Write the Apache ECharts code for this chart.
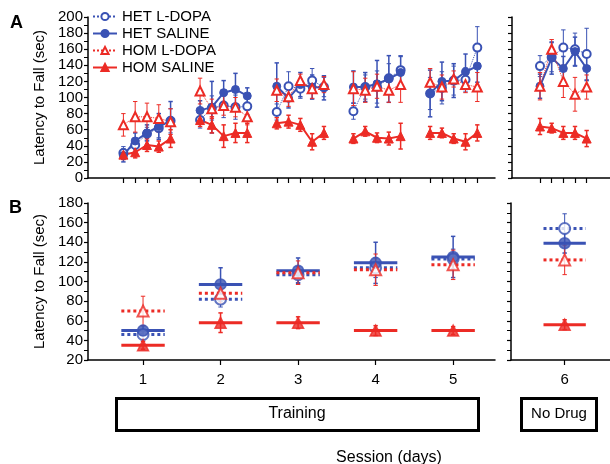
<!DOCTYPE html>
<html>
<head>
<meta charset="utf-8">
<script src="https://cdn.jsdelivr.net/npm/echarts@6/dist/echarts.min.js"></script>
<style>
html,body{margin:0;padding:0;background:#fff;}
#chart{width:610px;height:464px;}
</style>
</head>
<body>
<div id="chart"></div>
<script>
// ---------- DATA ----------
const groupNames = ['HET L-DOPA', 'HET SALINE', 'HOM L-DOPA', 'HOM SALINE'];
const sessionLabels = ['1', '2', '3', '4', '5', '6'];
const yTicksA = [0, 20, 40, 60, 80, 100, 120, 140, 160, 180, 200];
const yTicksB = [20, 40, 60, 80, 100, 120, 140, 160, 180];

// Panel A: per session (6) x trial (5) means
const hetLdopaA = [[31,41,55,62,71],[72,87,90,88,89],[82,114,111,121,113],[83,113,113,124,134],[105,112,121,122,162],[139,150,162,160,154]];
const hetSalineA = [[28,46,56,64,71],[84,88,106,110,102],[114,99,116,113,112],[113,113,117,123,131],[105,120,121,132,139],[114,149,136,157,136]];
const homLdopaA = [[66,76,76,74,70],[108,86,90,88,76],[109,101,121,111,116],[111,109,114,109,116],[119,113,123,116,113],[114,160,120,104,113]];
const homSalineA = [[29,32,41,39,49],[72,66,52,56,56],[68,70,66,45,56],[49,58,50,49,52],[56,56,49,45,56],[64,62,56,56,49]];

// Panel A: errors
const hetLdopaErrA = [[8,8,8,12,15],[10,15,15,15,10],[10,18,12,15,12],[10,15,20,18,18],[20,20,18,15,26],[13,18,22,20,32]];
const hetSalineErrA = [[8,10,10,16,24],[12,32,15,20,10],[29,12,15,15,15],[20,18,29,29,20],[29,24,21,22,20],[15,20,15,18,15]];
const homLdopaErrA = [[14,19,17,17,16],[16,12,12,12,10],[14,12,8,12,10],[21,15,15,15,22],[17,15,10,10,18],[17,12,20,21,15]];
const homSalineErrA = [[6,7,8,7,11],[8,10,14,12,12],[7,8,8,10,8],[6,6,6,8,16],[8,6,6,10,10],[10,6,8,8,10]];

// Panel B: session means and errors
const hetLdopaB = [46, 82, 107, 114, 123, 154];
const hetSalineB = [50, 97, 111, 119, 125, 139];
const homLdopaB = [70, 88, 109, 112, 117, 122];
const homSalineB = [35, 58, 58, 50, 50, 56];
const hetLdopaErrB = [5, 8, 8, 10, 10, 15];
const hetSalineErrB = [5, 17, 13, 21, 21, 10];
const homLdopaErrB = [15, 10, 12, 16, 15, 15];
const homSalineErrB = [4, 10, 6, 5, 4, 5];

// ---------- STYLE / LAYOUT ----------
const BLUE = '#3a52b4';
const RED = '#ec2b25';
const FONT = 'Arial, "Liberation Sans", Helvetica, sans-serif';
const FS = 15;
const GROUP = 6.5;   // trial-units between session blocks in panel A
const HALF = 0.28;   // half width of mean lines in panel B

const groups = [
  {name: groupNames[0], a: hetLdopaA, ea: hetLdopaErrA, b: hetLdopaB, eb: hetLdopaErrB, color: BLUE, open: true, sym: 'circle'},
  {name: groupNames[1], a: hetSalineA, ea: hetSalineErrA, b: hetSalineB, eb: hetSalineErrB, color: BLUE, open: false, sym: 'circle'},
  {name: groupNames[2], a: homLdopaA, ea: homLdopaErrA, b: homLdopaB, eb: homLdopaErrB, color: RED, open: true, sym: 'triangle'},
  {name: groupNames[3], a: homSalineA, ea: homSalineErrA, b: homSalineB, eb: homSalineErrB, color: RED, open: false, sym: 'triangle'}
];

function trialX(s, t) { return s < 5 ? s * GROUP + t : t; }

function errRender(color, lw, cap) {
  return function (params, api) {
    const x = api.value(0), y = api.value(1), e = api.value(2);
    const top = api.coord([x, y + e]);
    const bot = api.coord([x, y - e]);
    const st = {stroke: color, lineWidth: lw};
    return {type: 'group', children: [
      {type: 'line', shape: {x1: top[0], y1: top[1], x2: bot[0], y2: bot[1]}, style: st},
      {type: 'line', shape: {x1: top[0] - cap, y1: top[1], x2: top[0] + cap, y2: top[1]}, style: st},
      {type: 'line', shape: {x1: bot[0] - cap, y1: bot[1], x2: bot[0] + cap, y2: bot[1]}, style: st}
    ]};
  };
}

function symName(g) { return g.open ? 'empty' + g.sym.charAt(0).toUpperCase() + g.sym.slice(1) : g.sym; }

const series = [];
// Panel A error bars
groups.forEach(g => {
  const left = [], right = [];
  g.a.forEach((arr, s) => arr.forEach((v, t) => {
    const item = [trialX(s, t), v, g.ea[s][t]];
    (s < 5 ? left : right).push(item);
  }));
  [[left, 0], [right, 1]].forEach(([d, idx]) => {
    series.push({type: 'custom', name: g.name + ' errA', xAxisIndex: idx, yAxisIndex: idx, z: 1,
      renderItem: errRender(g.color, g.open ? 1 : 1.5, 2.2), data: d, silent: true});
  });
});
// Panel A lines + markers
groups.forEach(g => {
  const left = [], right = [];
  g.a.forEach((arr, s) => {
    const tgt = s < 5 ? left : right;
    arr.forEach((v, t) => tgt.push([trialX(s, t), v]));
    if (s < 5) tgt.push([trialX(s, 4.5), '-']);
  });
  [[left, 0], [right, 1]].forEach(([d, idx]) => {
    series.push({
      type: 'line', name: g.name, xAxisIndex: idx, yAxisIndex: idx, z: 3,
      data: d, connectNulls: false,
      symbol: symName(g),
      symbolSize: g.sym === 'circle' ? 8 : 9,
      showAllSymbol: true,
      itemStyle: {color: g.color, borderColor: g.color, borderWidth: g.open ? 1.2 : 1},
      lineStyle: {color: g.color, width: g.open ? 1 : 2, type: g.open ? 'dotted' : 'solid'},
      animation: false
    });
  });
});
// Panel B
groups.forEach(g => {
  const segL = [], segR = [], ptsL = [], ptsR = [], errL = [], errR = [];
  g.b.forEach((v, i) => {
    const day = i + 1;
    const seg = day <= 5 ? segL : segR;
    seg.push([day - HALF, v], [day + HALF, v], [day, '-']);
    (day <= 5 ? ptsL : ptsR).push([day, v]);
    (day <= 5 ? errL : errR).push([day, v, g.eb[i]]);
  });
  [[segL, ptsL, errL, 2], [segR, ptsR, errR, 3]].forEach(([seg, pts, err, idx]) => {
    series.push({type: 'custom', name: g.name + ' errB', xAxisIndex: idx, yAxisIndex: idx, z: 1,
      renderItem: errRender(g.color, g.open ? 1 : 1.5, 2.2), data: err, silent: true});
    series.push({type: 'line', name: g.name + ' meanB', xAxisIndex: idx, yAxisIndex: idx, z: 2,
      data: seg, connectNulls: false, symbol: 'none',
      lineStyle: {color: g.color, width: 3, type: g.open ? [3, 3] : 'solid'}, animation: false});
    series.push({type: 'scatter', name: g.name + ' ptB', xAxisIndex: idx, yAxisIndex: idx, z: 4,
      data: pts, symbol: symName(g), symbolSize: 11,
      itemStyle: {color: g.color, borderColor: g.color, borderWidth: 1.5}, animation: false});
  });
});

const axisLineStyle = {lineStyle: {color: '#000', width: 1.5}};
const tickStyle = {lineStyle: {color: '#000', width: 1.2}};

function yAxisDef(gridIndex, min, max, ticks, showLabel, name) {
  return {
    type: 'value', gridIndex, min, max, interval: ticks[1] - ticks[0],
    axisLine: {show: true, onZero: false, ...axisLineStyle},
    axisTick: {show: true, length: 4, ...tickStyle},
    minorTick: {show: true, splitNumber: 2, length: 4, lineStyle: {color: '#000', width: 1}},
    splitLine: {show: false},
    axisLabel: {show: showLabel, color: '#000', fontSize: FS, fontFamily: FONT, margin: 5},
    name: name || '', nameLocation: 'middle', nameGap: 37, nameRotate: 90,
    nameTextStyle: {color: '#000', fontSize: FS, fontFamily: FONT}
  };
}

const tickPosLeftA = [];
for (let s = 0; s < 5; s++) for (let t = 0; t < 5; t++) tickPosLeftA.push(trialX(s, t));
const tickPosRightA = [0, 1, 2, 3, 4];

function xAxisDef(gridIndex, min, max, ticks, labels) {
  return {
    type: 'value', gridIndex, min, max,
    axisLine: {show: true, onZero: false, ...axisLineStyle},
    axisTick: {show: true, length: 5, customValues: ticks, ...tickStyle},
    splitLine: {show: false},
    axisLabel: {show: true, customValues: ticks, color: '#000', fontSize: FS, fontFamily: FONT, margin: 12,
      formatter: v => labels ? sessionLabels[Math.round(v) - 1] : ''}
  };
}

const option = {
  animation: false,
  backgroundColor: '#fff',
  grid: [
    {left: 88, top: 17, width: 407, height: 161},
    {left: 512, top: 17, width: 100, height: 161},
    {left: 88, top: 203, width: 407, height: 157},
    {left: 511, top: 203, width: 101, height: 157}
  ],
  xAxis: [
    xAxisDef(0, -3, 31.5, tickPosLeftA, false),
    xAxisDef(1, -2.4, 6.0, tickPosRightA, false),
    xAxisDef(2, 0.29, 5.54, [1, 2, 3, 4, 5], true),
    xAxisDef(3, 5.29, 6.6, [6], true)
  ],
  yAxis: [
    yAxisDef(0, 0, 200, yTicksA, true, 'Latency to Fall (sec)'),
    yAxisDef(1, 0, 200, yTicksA, false),
    yAxisDef(2, 20, 180, yTicksB, true, 'Latency to Fall (sec)'),
    yAxisDef(3, 20, 180, yTicksB, false)
  ],
  legend: {
    data: groupNames, orient: 'vertical', left: 87, top: 4,
    itemWidth: 24, itemHeight: 9, itemGap: 2,
    textStyle: {color: '#000', fontSize: FS, fontFamily: FONT, lineHeight: 15},
    selectedMode: false
  },
  series,
  graphic: [
    {type: 'text', left: 10, top: 14, style: {text: 'A', font: 'bold 18px ' + FONT, fill: '#000'}},
    {type: 'text', left: 9, top: 199, style: {text: 'B', font: 'bold 18px ' + FONT, fill: '#000'}},
    {type: 'rect', shape: {x: 116.5, y: 398.5, width: 362, height: 32}, style: {fill: 'none', stroke: '#000', lineWidth: 3}},
    {type: 'text', x: 297, y: 414, style: {text: 'Training', font: '16px ' + FONT, fill: '#000', align: 'center', verticalAlign: 'middle'}},
    {type: 'rect', shape: {x: 521.5, y: 398.5, width: 75, height: 32}, style: {fill: 'none', stroke: '#000', lineWidth: 3}},
    {type: 'text', x: 559, y: 414, style: {text: 'No Drug', font: '15px ' + FONT, fill: '#000', align: 'center', verticalAlign: 'middle'}},
    {type: 'text', x: 389, y: 458, style: {text: 'Session (days)', font: '16px ' + FONT, fill: '#000', align: 'center', verticalAlign: 'middle'}}
  ]
};

const chart = echarts.init(document.getElementById('chart'), null, {renderer: 'canvas'});
chart.setOption(option);
</script>
</body>
</html>
